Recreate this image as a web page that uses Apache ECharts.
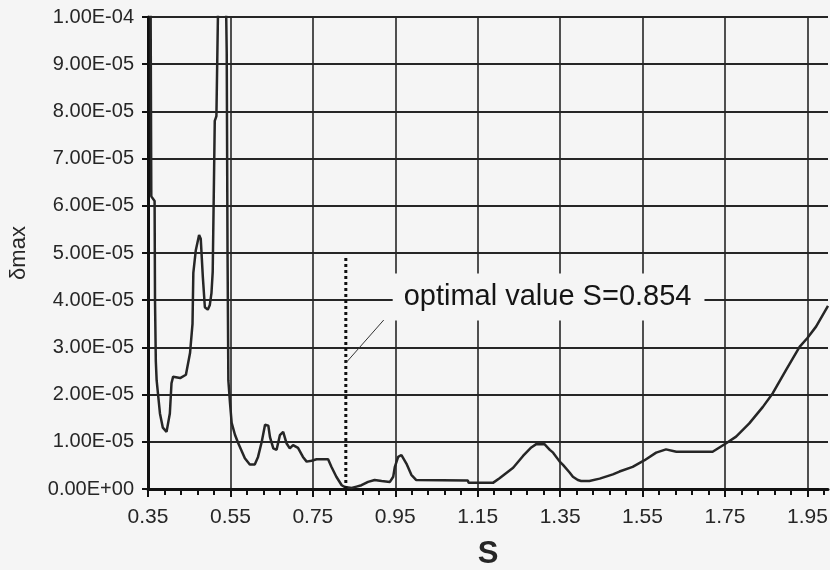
<!DOCTYPE html>
<html><head><meta charset="utf-8">
<script src="https://cdn.jsdelivr.net/npm/echarts@6/dist/echarts.min.js"></script>
<style>html,body{margin:0;padding:0;background:#f5f5f5}#c{width:830px;height:570px}</style>
</head><body><div id="c"></div>
<script>
// S values (x) and delta_max values (y)
const sValues = [0.352,0.356,0.358,0.366,0.367,0.369,0.371,0.379,0.386,0.395,0.403,0.407,0.411,0.428,0.442,0.452,0.458,0.460,0.466,0.474,0.478,0.483,0.488,0.495,0.500,0.504,0.507,0.510,0.512,0.516,0.520,0.529,0.539,0.541,0.543,0.545,0.549,0.553,0.561,0.569,0.585,0.597,0.609,0.617,0.626,0.634,0.642,0.646,0.654,0.662,0.670,0.678,0.686,0.694,0.702,0.714,0.726,0.735,0.747,0.759,0.787,0.795,0.807,0.820,0.828,0.844,0.856,0.868,0.884,0.900,0.917,0.937,0.945,0.949,0.957,0.965,0.977,0.989,1.001,1.126,1.128,1.187,1.203,1.236,1.260,1.280,1.292,1.312,1.325,1.333,1.349,1.357,1.373,1.381,1.393,1.401,1.421,1.446,1.478,1.494,1.526,1.555,1.583,1.607,1.632,1.720,1.753,1.777,1.809,1.842,1.866,1.898,1.931,1.950,1.971,2.000];
const deltaMax = [12.0e-5,11.0e-5,6.2e-5,6.1e-5,4.0e-5,2.7e-5,2.3e-5,1.6e-5,1.3e-5,1.21e-5,1.6e-5,2.24e-5,2.38e-5,2.35e-5,2.42e-5,2.88e-5,3.5e-5,4.58e-5,5.06e-5,5.38e-5,5.3e-5,4.5e-5,3.85e-5,3.8e-5,3.9e-5,4.15e-5,4.6e-5,6.5e-5,7.8e-5,7.9e-5,10.2e-5,13.5e-5,10.5e-5,9.26e-5,5.0e-5,2.3e-5,1.82e-5,1.4e-5,1.15e-5,0.97e-5,0.65e-5,0.52e-5,0.52e-5,0.68e-5,1.0e-5,1.36e-5,1.34e-5,1.1e-5,0.86e-5,0.83e-5,1.14e-5,1.21e-5,0.97e-5,0.86e-5,0.93e-5,0.87e-5,0.68e-5,0.58e-5,0.6e-5,0.63e-5,0.63e-5,0.47e-5,0.26e-5,0.08e-5,0.04e-5,0.02e-5,0.05e-5,0.08e-5,0.15e-5,0.19e-5,0.17e-5,0.15e-5,0.26e-5,0.47e-5,0.68e-5,0.72e-5,0.54e-5,0.3e-5,0.19e-5,0.18e-5,0.13e-5,0.13e-5,0.23e-5,0.45e-5,0.7e-5,0.88e-5,0.95e-5,0.95e-5,0.83e-5,0.77e-5,0.58e-5,0.51e-5,0.35e-5,0.26e-5,0.19e-5,0.17e-5,0.17e-5,0.22e-5,0.31e-5,0.37e-5,0.47e-5,0.61e-5,0.77e-5,0.84e-5,0.79e-5,0.79e-5,0.97e-5,1.11e-5,1.39e-5,1.74e-5,2.03e-5,2.52e-5,3.01e-5,3.2e-5,3.44e-5,3.88e-5];

const xTickValues = [0.35,0.55,0.75,0.95,1.15,1.35,1.55,1.75,1.95];
const xTickLabels = ['0.35','0.55','0.75','0.95','1.15','1.35','1.55','1.75','1.95'];
const xMinorTickValues = [0.35,0.39,0.43,0.47,0.51,0.55,0.59,0.63,0.67,0.71,0.75,0.79,0.83,0.87,0.91,0.95,0.99,1.03,1.07,1.11,1.15,1.19,1.23,1.27,1.31,1.35,1.39,1.43,1.47,1.51,1.55,1.59,1.63,1.67,1.71,1.75,1.79,1.83,1.87,1.91,1.95,1.99];
const yTickLabels = ['0.00E+00','1.00E-05','2.00E-05','3.00E-05','4.00E-05','5.00E-05','6.00E-05','7.00E-05','8.00E-05','9.00E-05','1.00E-04'];

const optimalS = [0.83, 0.83];
const optimalY = [0, 4.95e-5];
const leaderS = [0.83, 0.922];
const leaderY = [2.67e-5, 3.58e-5];
const annotationText = 'optimal value S=0.854';
const annotationS = 1.322;
const annotationY = 4.07e-5;

const BG = '#f5f5f5';
const INK = '#262626';
const FONT = 'Liberation Sans, Arial, sans-serif';

const chart = echarts.init(document.getElementById('c'), null, {renderer: 'canvas'});
chart.setOption({
  backgroundColor: BG,
  animation: false,
  grid: {left: 148, right: 2, top: 17, bottom: 81, containLabel: false, outerBoundsMode: 'none'},
  xAxis: [{
    type: 'value', min: 0.35, max: 2.0,
    name: 'S', nameLocation: 'middle', nameGap: 50,
    nameTextStyle: {fontFamily: FONT, fontSize: 31, fontWeight: 'bold', color: INK},
    axisLine: {show: true, onZero: false, lineStyle: {color: '#111', width: 3}},
    axisTick: {show: true, customValues: xTickValues, length: 8, lineStyle: {color: '#111', width: 2}},
    axisLabel: {customValues: xTickValues, margin: 18, fontFamily: FONT, fontSize: 21, color: INK,
      formatter: function (v) {
        let best = 0;
        for (let i = 0; i < xTickValues.length; i++) if (Math.abs(xTickValues[i] - v) < Math.abs(xTickValues[best] - v)) best = i;
        return xTickLabels[best];
      }},
    splitLine: {show: true, lineStyle: {color: INK, width: 1.6}}
  }, {
    type: 'value', min: 0.35, max: 2.0, position: 'bottom',
    axisLine: {show: false},
    axisTick: {show: true, customValues: xMinorTickValues, length: 6, lineStyle: {color: '#111', width: 2}},
    axisLabel: {show: false},
    splitLine: {show: false}
  }],
  yAxis: {
    type: 'value', min: 0, max: 1e-4, interval: 1e-5,
    name: 'δmax', nameLocation: 'middle', nameGap: 118, nameRotate: 90,
    nameTextStyle: {fontFamily: FONT, fontSize: 22, color: INK},
    axisLine: {show: true, lineStyle: {color: '#111', width: 3}},
    axisTick: {show: true, length: 6, lineStyle: {color: '#111', width: 2}},
    axisLabel: {margin: 14, fontFamily: FONT, fontSize: 20, color: INK,
      formatter: function (v) { return yTickLabels[Math.round(v / 1e-5)]; }},
    splitLine: {show: true, lineStyle: {color: INK, width: 2}}
  },
  series: [{
    type: 'line', xAxisIndex: 0,
    data: sValues.map((s, i) => [s, deltaMax[i]]),
    showSymbol: false, clip: true,
    lineStyle: {color: '#262626', width: 2.5},
    z: 3
  }, {
    type: 'line', xAxisIndex: 0,
    data: optimalS.map((s, i) => [s, optimalY[i]]),
    showSymbol: false,
    lineStyle: {color: '#111', width: 3, type: [3, 3]},
    z: 4
  }, {
    type: 'line', xAxisIndex: 0,
    data: leaderS.map((s, i) => [s, leaderY[i]]),
    showSymbol: false,
    lineStyle: {color: '#333', width: 1},
    z: 4
  }, {
    type: 'scatter', xAxisIndex: 0,
    data: [[annotationS, annotationY]],
    symbolSize: 0,
    silent: true,
    itemStyle: {opacity: 1, color: BG},
    label: {show: true, position: 'inside', formatter: annotationText,
      fontFamily: FONT, fontSize: 29, color: '#151515', opacity: 1,
      backgroundColor: BG, padding: [9, 13, 9, 11]},
    z: 5
  }]
});
</script>
</body></html>
